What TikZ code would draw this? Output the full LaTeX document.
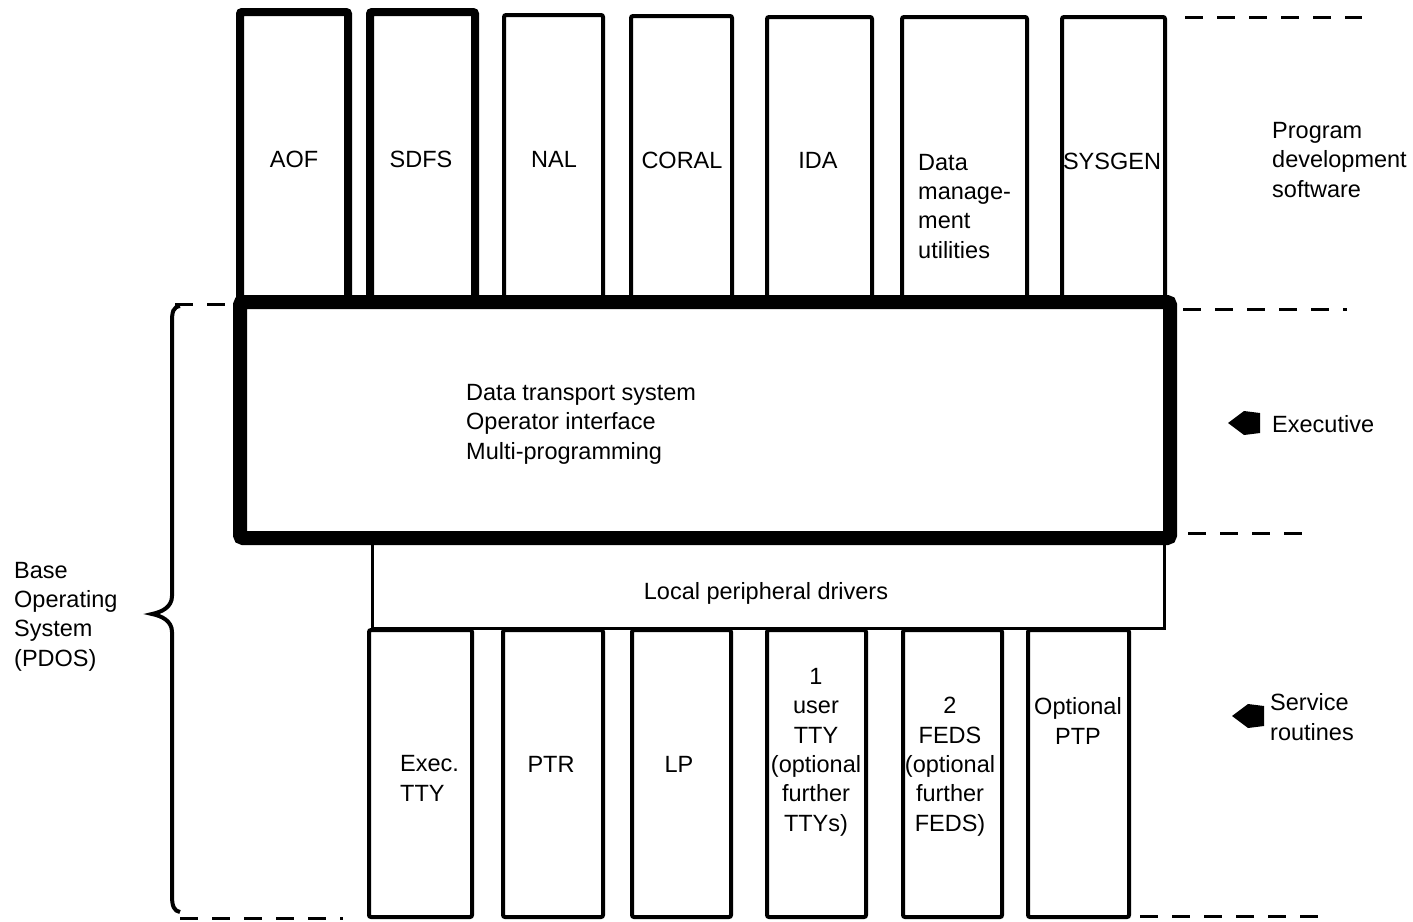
\documentclass[tikz,border=0pt]{standalone}
\usepackage{fontspec}
\setmainfont{Liberation Sans}
\begin{document}
\begin{tikzpicture}[x=1pt,y=-1pt,
  box/.style={draw, fill=white, rounded corners=2pt, inner sep=0pt, outer sep=0pt},
  topthick/.style={box, line width=8pt},
  topthin/.style={box, line width=4pt},
  execbox/.style={box, line width=14pt, rounded corners=3pt},
  drvbox/.style={box, line width=3pt, rounded corners=0pt},
  botbox/.style={box, line width=4pt},
  lbl/.style={inner sep=0pt, font=\fontsize{23.5}{29.3}\selectfont},
  lblL/.style={lbl, align=left, anchor=base west},
  lblC/.style={lbl, align=center, anchor=base},
  dashline/.style={line width=3pt, dash pattern=on 18pt off 14pt},
  bracestyle/.style={line width=4pt},
  blockarrow/.style={fill=black}
]
\useasboundingbox (0,0) rectangle (1413,921);

% top boxes
\node[topthick, minimum width=108pt, minimum height=290pt] (aof) at (294,157) {};
\node[topthick, minimum width=105pt, minimum height=290pt] (sdfs) at (422.5,157) {};
\node[topthin, minimum width=99pt, minimum height=287pt] (nal) at (553.5,158.5) {};
\node[topthin, minimum width=101pt, minimum height=286pt] (coral) at (681.5,159) {};
\node[topthin, minimum width=105pt, minimum height=285pt] (ida) at (819.5,159.5) {};
\node[topthin, minimum width=125pt, minimum height=285pt] (dmu) at (964.5,159.5) {};
\node[topthin, minimum width=103pt, minimum height=285pt] (sysgen) at (1113.5,159.5) {};

% bottom boxes
\node[botbox, minimum width=103pt, minimum height=287pt] (etty) at (420.5,773.5) {};
\node[botbox, minimum width=100pt, minimum height=287pt] (ptr) at (553,773.5) {};
\node[botbox, minimum width=99pt, minimum height=287pt] (lp) at (681.5,773.5) {};
\node[botbox, minimum width=99pt, minimum height=287pt] (utty) at (816.5,773.5) {};
\node[botbox, minimum width=99pt, minimum height=287pt] (feds) at (952.5,773.5) {};
\node[botbox, minimum width=101pt, minimum height=287pt] (ptp) at (1078.5,773.5) {};

% drivers and executive
\node[drvbox, minimum width=792pt, minimum height=90pt] (drv) at (768,583) {};
\node[execbox, minimum width=930pt, minimum height=236pt] (exec) at (705,420) {};

% labels in top boxes
\node[lblC] (taof) at (294,167) {AOF};
\node[lblC] (tsdfs) at (421,167) {SDFS};
\node[lblC] (tnal) at (554,167) {NAL};
\node[lblC] (tcoral) at (682,168) {CORAL};
\node[lblC] (tida) at (818,168) {IDA};
\node[lblL] (tdmu) at (918,258) {Data\\manage-\\ment\\utilities};
\node[lblC] (tsysgen) at (1112,169) {SYSGEN};

% executive text
\node[lblL] (texec) at (466,459) {Data transport system\\Operator interface\\Multi-programming};
\node[lblC] (tdrv) at (766,599) {Local peripheral drivers};

% bottom labels
\node[lblL] (tetty) at (400,801) {Exec.\\TTY};
\node[lblC] (tptr) at (551,772) {PTR};
\node[lblC] (tlp) at (679,772) {LP};
\node[lblC] (tutty) at (816,831) {1\\user\\TTY\\(optional\\further\\TTYs)};
\node[lblC] (tfeds) at (950,831) {2\\FEDS\\(optional\\further\\FEDS)};
\node[lblC] (tptp) at (1078,744) {Optional\\PTP};

% right labels
\node[lblL] (tpds) at (1272,197) {Program\\development\\software};
\node[lblL] (texe) at (1272,432) {Executive};
\node[lblL] (tsrv) at (1270,740) {Service\\routines};
\node[lblL] (tbos) at (14,666) {Base\\Operating\\System\\(PDOS)};

% block arrows
\fill[blockarrow] (1228,423) -- (1244,411) -- (1260,413) -- (1260,433) -- (1244,435) -- cycle;
\fill[blockarrow] (1232,716) -- (1248,704) -- (1264,706) -- (1264,726) -- (1248,728) -- cycle;

% dashed guide lines
\coordinate (d1a) at (1185,17);  \coordinate (d1b) at (1362,17);
\coordinate (d2a) at (1183,309); \coordinate (d2b) at (1347,309);
\coordinate (d3a) at (1188,533); \coordinate (d3b) at (1315,533);
\coordinate (d4a) at (175,304);  \coordinate (d4b) at (227,304);
\coordinate (d5a) at (180,918);  \coordinate (d5b) at (343,918);
\coordinate (d6a) at (1140,916); \coordinate (d6b) at (1325,916);
\draw[dashline] (d1a) -- (d1b);
\draw[dashline] (d2a) -- (d2b);
\draw[dashline] (d3a) -- (d3b);
\draw[dashline] (d4a) -- (d4b);
\draw[dashline] (d5a) -- (d5b);
\draw[dashline] (d6a) -- (d6b);

% brace
\draw[bracestyle] (180,306) .. controls (173,307) and (172,312) .. (172,322) -- (172,596)
  .. controls (172,607) and (162,612) .. (152,614)
  .. controls (162,616) and (172,621) .. (172,632) -- (172,896)
  .. controls (172,906) and (174,911) .. (180,912);
\end{tikzpicture}
\end{document}
